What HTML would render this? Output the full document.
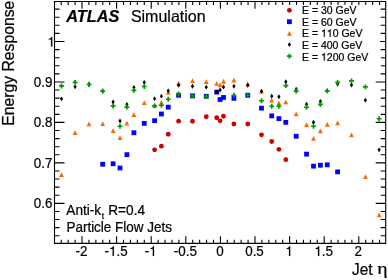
<!DOCTYPE html>
<html><head><meta charset="utf-8"><title>ATLAS Simulation</title>
<style>
html,body{margin:0;padding:0;background:#fff;}
svg{display:block;}
text{font-family:"Liberation Sans",sans-serif;fill:#000;stroke:#000;stroke-width:0.22px;}
</style></head>
<body>
<svg width="388" height="280" viewBox="0 0 388 280">
<defs><filter id="soft" x="0" y="0" width="388" height="280" filterUnits="userSpaceOnUse"><feGaussianBlur stdDeviation="0.35"/></filter></defs>
<rect x="0" y="0" width="388" height="280" fill="#ffffff"/>
<g filter="url(#soft)">
<path d="M61.24 243.40v-3.6M61.24 1.50v3.6M68.16 243.40v-3.6M68.16 1.50v3.6M75.08 243.40v-3.6M75.08 1.50v3.6M82.00 243.40v-7.2M82.00 1.50v7.2M88.92 243.40v-3.6M88.92 1.50v3.6M95.84 243.40v-3.6M95.84 1.50v3.6M102.76 243.40v-3.6M102.76 1.50v3.6M109.68 243.40v-3.6M109.68 1.50v3.6M116.60 243.40v-7.2M116.60 1.50v7.2M123.52 243.40v-3.6M123.52 1.50v3.6M130.44 243.40v-3.6M130.44 1.50v3.6M137.36 243.40v-3.6M137.36 1.50v3.6M144.28 243.40v-3.6M144.28 1.50v3.6M151.20 243.40v-7.2M151.20 1.50v7.2M158.12 243.40v-3.6M158.12 1.50v3.6M165.04 243.40v-3.6M165.04 1.50v3.6M171.96 243.40v-3.6M171.96 1.50v3.6M178.88 243.40v-3.6M178.88 1.50v3.6M185.80 243.40v-7.2M185.80 1.50v7.2M192.72 243.40v-3.6M192.72 1.50v3.6M199.64 243.40v-3.6M199.64 1.50v3.6M206.56 243.40v-3.6M206.56 1.50v3.6M213.48 243.40v-3.6M213.48 1.50v3.6M220.40 243.40v-7.2M220.40 1.50v7.2M227.32 243.40v-3.6M227.32 1.50v3.6M234.24 243.40v-3.6M234.24 1.50v3.6M241.16 243.40v-3.6M241.16 1.50v3.6M248.08 243.40v-3.6M248.08 1.50v3.6M255.00 243.40v-7.2M255.00 1.50v7.2M261.92 243.40v-3.6M261.92 1.50v3.6M268.84 243.40v-3.6M268.84 1.50v3.6M275.76 243.40v-3.6M275.76 1.50v3.6M282.68 243.40v-3.6M282.68 1.50v3.6M289.60 243.40v-7.2M289.60 1.50v7.2M296.52 243.40v-3.6M296.52 1.50v3.6M303.44 243.40v-3.6M303.44 1.50v3.6M310.36 243.40v-3.6M310.36 1.50v3.6M317.28 243.40v-3.6M317.28 1.50v3.6M324.20 243.40v-7.2M324.20 1.50v7.2M331.12 243.40v-3.6M331.12 1.50v3.6M338.04 243.40v-3.6M338.04 1.50v3.6M344.96 243.40v-3.6M344.96 1.50v3.6M351.88 243.40v-3.6M351.88 1.50v3.6M358.80 243.40v-7.2M358.80 1.50v7.2M365.72 243.40v-3.6M365.72 1.50v3.6M372.64 243.40v-3.6M372.64 1.50v3.6M379.56 243.40v-3.6M379.56 1.50v3.6M54.50 235.71h5M385.70 235.71h-5M54.50 227.62h5M385.70 227.62h-5M54.50 219.52h5M385.70 219.52h-5M54.50 211.43h5M385.70 211.43h-5M54.50 203.34h10M385.70 203.34h-10M54.50 195.25h5M385.70 195.25h-5M54.50 187.16h5M385.70 187.16h-5M54.50 179.06h5M385.70 179.06h-5M54.50 170.97h5M385.70 170.97h-5M54.50 162.88h10M385.70 162.88h-10M54.50 154.79h5M385.70 154.79h-5M54.50 146.70h5M385.70 146.70h-5M54.50 138.60h5M385.70 138.60h-5M54.50 130.51h5M385.70 130.51h-5M54.50 122.42h10M385.70 122.42h-10M54.50 114.33h5M385.70 114.33h-5M54.50 106.24h5M385.70 106.24h-5M54.50 98.14h5M385.70 98.14h-5M54.50 90.05h5M385.70 90.05h-5M54.50 81.96h10M385.70 81.96h-10M54.50 73.87h5M385.70 73.87h-5M54.50 65.78h5M385.70 65.78h-5M54.50 57.68h5M385.70 57.68h-5M54.50 49.59h5M385.70 49.59h-5M54.50 41.50h10M385.70 41.50h-10M54.50 33.41h5M385.70 33.41h-5M54.50 25.32h5M385.70 25.32h-5M54.50 17.22h5M385.70 17.22h-5M54.50 9.13h5M385.70 9.13h-5" stroke="#000" stroke-width="1.1" fill="none"/>
<path d="M54.5 243.4V1.5H385.7V243.4" stroke="#000" stroke-width="1.1" fill="none"/>
<path d="M54.05 243.4H386.15" stroke="#000026" stroke-width="1.15" fill="none"/>
<g>
<circle cx="154.60" cy="149.85" r="2.4" fill="#cc0000"/>
<circle cx="161.40" cy="146.15" r="2.4" fill="#cc0000"/>
<circle cx="168.25" cy="134.25" r="2.4" fill="#cc0000"/>
<circle cx="178.60" cy="121.15" r="2.4" fill="#cc0000"/>
<circle cx="192.50" cy="121.25" r="2.4" fill="#cc0000"/>
<circle cx="206.25" cy="116.75" r="2.4" fill="#cc0000"/>
<circle cx="216.70" cy="117.75" r="2.4" fill="#cc0000"/>
<circle cx="220.10" cy="120.85" r="2.4" fill="#cc0000"/>
<circle cx="223.50" cy="116.25" r="2.4" fill="#cc0000"/>
<circle cx="233.90" cy="124.00" r="2.4" fill="#cc0000"/>
<circle cx="247.75" cy="124.00" r="2.4" fill="#cc0000"/>
<circle cx="261.50" cy="134.85" r="2.4" fill="#cc0000"/>
<circle cx="271.75" cy="141.50" r="2.4" fill="#cc0000"/>
<circle cx="278.90" cy="149.35" r="2.4" fill="#cc0000"/>
<circle cx="285.80" cy="159.65" r="2.4" fill="#cc0000"/>
<rect x="100.30" y="161.85" width="4.8" height="4.8" fill="#0000ff"/>
<rect x="110.70" y="161.35" width="4.8" height="4.8" fill="#0000ff"/>
<rect x="117.60" y="165.60" width="4.8" height="4.8" fill="#0000ff"/>
<rect x="124.50" y="152.25" width="4.8" height="4.8" fill="#0000ff"/>
<rect x="131.50" y="130.35" width="4.8" height="4.8" fill="#0000ff"/>
<rect x="141.85" y="120.95" width="4.8" height="4.8" fill="#0000ff"/>
<rect x="152.20" y="118.25" width="4.8" height="4.8" fill="#0000ff"/>
<rect x="159.00" y="111.60" width="4.8" height="4.8" fill="#0000ff"/>
<rect x="165.85" y="104.75" width="4.8" height="4.8" fill="#0000ff"/>
<rect x="176.20" y="92.85" width="4.8" height="4.8" fill="#0000ff"/>
<rect x="190.10" y="93.45" width="4.8" height="4.8" fill="#0000ff"/>
<rect x="203.85" y="93.85" width="4.8" height="4.8" fill="#0000ff"/>
<rect x="214.30" y="89.75" width="4.8" height="4.8" fill="#0000ff"/>
<rect x="217.70" y="97.15" width="4.8" height="4.8" fill="#0000ff"/>
<rect x="221.10" y="95.05" width="4.8" height="4.8" fill="#0000ff"/>
<rect x="231.50" y="95.95" width="4.8" height="4.8" fill="#0000ff"/>
<rect x="245.35" y="92.85" width="4.8" height="4.8" fill="#0000ff"/>
<rect x="259.10" y="105.75" width="4.8" height="4.8" fill="#0000ff"/>
<rect x="269.35" y="113.45" width="4.8" height="4.8" fill="#0000ff"/>
<rect x="276.50" y="116.25" width="4.8" height="4.8" fill="#0000ff"/>
<rect x="283.40" y="119.95" width="4.8" height="4.8" fill="#0000ff"/>
<rect x="293.80" y="133.85" width="4.8" height="4.8" fill="#0000ff"/>
<rect x="304.15" y="151.75" width="4.8" height="4.8" fill="#0000ff"/>
<rect x="311.10" y="163.75" width="4.8" height="4.8" fill="#0000ff"/>
<rect x="318.00" y="162.85" width="4.8" height="4.8" fill="#0000ff"/>
<rect x="324.85" y="162.45" width="4.8" height="4.8" fill="#0000ff"/>
<rect x="335.20" y="169.45" width="4.8" height="4.8" fill="#0000ff"/>
<path d="M61.50 172.30L63.90 177.10L59.10 177.10Z" fill="#ff6600"/>
<path d="M75.10 130.30L77.50 135.10L72.70 135.10Z" fill="#ff6600"/>
<path d="M89.00 121.55L91.40 126.35L86.60 126.35Z" fill="#ff6600"/>
<path d="M102.70 121.30L105.10 126.10L100.30 126.10Z" fill="#ff6600"/>
<path d="M113.10 128.15L115.50 132.95L110.70 132.95Z" fill="#ff6600"/>
<path d="M120.00 135.30L122.40 140.10L117.60 140.10Z" fill="#ff6600"/>
<path d="M126.90 120.65L129.30 125.45L124.50 125.45Z" fill="#ff6600"/>
<path d="M133.90 112.30L136.30 117.10L131.50 117.10Z" fill="#ff6600"/>
<path d="M144.25 100.15L146.65 104.95L141.85 104.95Z" fill="#ff6600"/>
<path d="M154.60 102.85L157.00 107.65L152.20 107.65Z" fill="#ff6600"/>
<path d="M161.40 100.05L163.80 104.85L159.00 104.85Z" fill="#ff6600"/>
<path d="M168.25 90.05L170.65 94.85L165.85 94.85Z" fill="#ff6600"/>
<path d="M178.60 80.65L181.00 85.45L176.20 85.45Z" fill="#ff6600"/>
<path d="M192.50 78.15L194.90 82.95L190.10 82.95Z" fill="#ff6600"/>
<path d="M206.25 79.15L208.65 83.95L203.85 83.95Z" fill="#ff6600"/>
<path d="M216.70 81.05L219.10 85.85L214.30 85.85Z" fill="#ff6600"/>
<path d="M220.10 82.45L222.50 87.25L217.70 87.25Z" fill="#ff6600"/>
<path d="M223.50 78.85L225.90 83.65L221.10 83.65Z" fill="#ff6600"/>
<path d="M233.90 77.65L236.30 82.45L231.50 82.45Z" fill="#ff6600"/>
<path d="M247.75 81.55L250.15 86.35L245.35 86.35Z" fill="#ff6600"/>
<path d="M261.50 88.75L263.90 93.55L259.10 93.55Z" fill="#ff6600"/>
<path d="M271.75 97.75L274.15 102.55L269.35 102.55Z" fill="#ff6600"/>
<path d="M278.90 100.55L281.30 105.35L276.50 105.35Z" fill="#ff6600"/>
<path d="M285.80 99.45L288.20 104.25L283.40 104.25Z" fill="#ff6600"/>
<path d="M296.20 111.55L298.60 116.35L293.80 116.35Z" fill="#ff6600"/>
<path d="M306.55 122.15L308.95 126.95L304.15 126.95Z" fill="#ff6600"/>
<path d="M313.50 135.95L315.90 140.75L311.10 140.75Z" fill="#ff6600"/>
<path d="M320.40 128.55L322.80 133.35L318.00 133.35Z" fill="#ff6600"/>
<path d="M327.25 122.05L329.65 126.85L324.85 126.85Z" fill="#ff6600"/>
<path d="M337.60 120.45L340.00 125.25L335.20 125.25Z" fill="#ff6600"/>
<path d="M351.50 132.55L353.90 137.35L349.10 137.35Z" fill="#ff6600"/>
<path d="M365.40 174.15L367.80 178.95L363.00 178.95Z" fill="#ff6600"/>
<path d="M379.10 212.55L381.50 217.35L376.70 217.35Z" fill="#ff6600"/>
<path d="M61.50 96.40L63.10 98.85L61.50 101.30L59.90 98.85Z" fill="#000000"/>
<path d="M75.10 84.40L76.70 86.85L75.10 89.30L73.50 86.85Z" fill="#000000"/>
<path d="M89.00 82.30L90.60 84.75L89.00 87.20L87.40 84.75Z" fill="#000000"/>
<path d="M102.70 88.70L104.30 91.15L102.70 93.60L101.10 91.15Z" fill="#000000"/>
<path d="M113.10 99.55L114.70 102.00L113.10 104.45L111.50 102.00Z" fill="#000000"/>
<path d="M120.00 118.50L121.60 120.95L120.00 123.40L118.40 120.95Z" fill="#000000"/>
<path d="M126.90 102.10L128.50 104.55L126.90 107.00L125.30 104.55Z" fill="#000000"/>
<path d="M133.90 85.10L135.50 87.55L133.90 90.00L132.30 87.55Z" fill="#000000"/>
<path d="M144.25 79.90L145.85 82.35L144.25 84.80L142.65 82.35Z" fill="#000000"/>
<path d="M154.60 96.20L156.20 98.65L154.60 101.10L153.00 98.65Z" fill="#000000"/>
<path d="M161.40 93.70L163.00 96.15L161.40 98.60L159.80 96.15Z" fill="#000000"/>
<path d="M168.25 88.40L169.85 90.85L168.25 93.30L166.65 90.85Z" fill="#000000"/>
<path d="M178.60 82.80L180.20 85.25L178.60 87.70L177.00 85.25Z" fill="#000000"/>
<path d="M192.50 83.80L194.10 86.25L192.50 88.70L190.90 86.25Z" fill="#000000"/>
<path d="M206.25 84.70L207.85 87.15L206.25 89.60L204.65 87.15Z" fill="#000000"/>
<path d="M216.70 89.60L218.30 92.05L216.70 94.50L215.10 92.05Z" fill="#000000"/>
<path d="M220.10 87.50L221.70 89.95L220.10 92.40L218.50 89.95Z" fill="#000000"/>
<path d="M223.50 84.50L225.10 86.95L223.50 89.40L221.90 86.95Z" fill="#000000"/>
<path d="M233.90 83.80L235.50 86.25L233.90 88.70L232.30 86.25Z" fill="#000000"/>
<path d="M247.75 82.80L249.35 85.25L247.75 87.70L246.15 85.25Z" fill="#000000"/>
<path d="M261.50 88.80L263.10 91.25L261.50 93.70L259.90 91.25Z" fill="#000000"/>
<path d="M271.75 93.70L273.35 96.15L271.75 98.60L270.15 96.15Z" fill="#000000"/>
<path d="M278.90 94.30L280.50 96.75L278.90 99.20L277.30 96.75Z" fill="#000000"/>
<path d="M285.80 79.30L287.40 81.75L285.80 84.20L284.20 81.75Z" fill="#000000"/>
<path d="M296.20 86.80L297.80 89.25L296.20 91.70L294.60 89.25Z" fill="#000000"/>
<path d="M306.55 101.70L308.15 104.15L306.55 106.60L304.95 104.15Z" fill="#000000"/>
<path d="M313.50 119.80L315.10 122.25L313.50 124.70L311.90 122.25Z" fill="#000000"/>
<path d="M320.40 99.05L322.00 101.50L320.40 103.95L318.80 101.50Z" fill="#000000"/>
<path d="M327.25 88.40L328.85 90.85L327.25 93.30L325.65 90.85Z" fill="#000000"/>
<path d="M337.60 81.55L339.20 84.00L337.60 86.45L336.00 84.00Z" fill="#000000"/>
<path d="M351.50 82.55L353.10 85.00L351.50 87.45L349.90 85.00Z" fill="#000000"/>
<path d="M365.40 97.80L367.00 100.25L365.40 102.70L363.80 100.25Z" fill="#000000"/>
<path d="M379.10 147.40L380.70 149.85L379.10 152.30L377.50 149.85Z" fill="#000000"/>
<path d="M60.65 83.50H62.35V85.10H63.95V86.80H62.35V88.40H60.65V86.80H59.05V85.10H60.65Z" fill="#009900"/>
<path d="M74.25 79.90H75.95V81.50H77.55V83.20H75.95V84.80H74.25V83.20H72.65V81.50H74.25Z" fill="#009900"/>
<path d="M88.15 81.80H89.85V83.40H91.45V85.10H89.85V86.70H88.15V85.10H86.55V83.40H88.15Z" fill="#009900"/>
<path d="M101.85 88.60H103.55V90.20H105.15V91.90H103.55V93.50H101.85V91.90H100.25V90.20H101.85Z" fill="#009900"/>
<path d="M112.25 103.50H113.95V105.10H115.55V106.80H113.95V108.40H112.25V106.80H110.65V105.10H112.25Z" fill="#009900"/>
<path d="M119.15 123.80H120.85V125.40H122.45V127.10H120.85V128.70H119.15V127.10H117.55V125.40H119.15Z" fill="#009900"/>
<path d="M126.05 104.60H127.75V106.20H129.35V107.90H127.75V109.50H126.05V107.90H124.45V106.20H126.05Z" fill="#009900"/>
<path d="M133.05 87.90H134.75V89.50H136.35V91.20H134.75V92.80H133.05V91.20H131.45V89.50H133.05Z" fill="#009900"/>
<path d="M143.40 84.05H145.10V85.65H146.70V87.35H145.10V88.95H143.40V87.35H141.80V85.65H143.40Z" fill="#009900"/>
<path d="M153.75 103.40H155.45V105.00H157.05V106.70H155.45V108.30H153.75V106.70H152.15V105.00H153.75Z" fill="#009900"/>
<path d="M160.55 102.80H162.25V104.40H163.85V106.10H162.25V107.70H160.55V106.10H158.95V104.40H160.55Z" fill="#009900"/>
<path d="M167.40 96.80H169.10V98.40H170.70V100.10H169.10V101.70H167.40V100.10H165.80V98.40H167.40Z" fill="#009900"/>
<path d="M177.75 91.55H179.45V93.15H181.05V94.85H179.45V96.45H177.75V94.85H176.15V93.15H177.75Z" fill="#009900"/>
<path d="M191.65 93.40H193.35V95.00H194.95V96.70H193.35V98.30H191.65V96.70H190.05V95.00H191.65Z" fill="#009900"/>
<path d="M205.40 93.90H207.10V95.50H208.70V97.20H207.10V98.80H205.40V97.20H203.80V95.50H205.40Z" fill="#009900"/>
<path d="M233.05 92.80H234.75V94.40H236.35V96.10H234.75V97.70H233.05V96.10H231.45V94.40H233.05Z" fill="#009900"/>
<path d="M246.90 92.80H248.60V94.40H250.20V96.10H248.60V97.70H246.90V96.10H245.30V94.40H246.90Z" fill="#009900"/>
<path d="M260.65 98.30H262.35V99.90H263.95V101.60H262.35V103.20H260.65V101.60H259.05V99.90H260.65Z" fill="#009900"/>
<path d="M270.90 103.80H272.60V105.40H274.20V107.10H272.60V108.70H270.90V107.10H269.30V105.40H270.90Z" fill="#009900"/>
<path d="M278.05 103.80H279.75V105.40H281.35V107.10H279.75V108.70H278.05V107.10H276.45V105.40H278.05Z" fill="#009900"/>
<path d="M284.95 83.20H286.65V84.80H288.25V86.50H286.65V88.10H284.95V86.50H283.35V84.80H284.95Z" fill="#009900"/>
<path d="M295.35 88.60H297.05V90.20H298.65V91.90H297.05V93.50H295.35V91.90H293.75V90.20H295.35Z" fill="#009900"/>
<path d="M305.70 104.80H307.40V106.40H309.00V108.10H307.40V109.70H305.70V108.10H304.10V106.40H305.70Z" fill="#009900"/>
<path d="M312.65 123.80H314.35V125.40H315.95V127.10H314.35V128.70H312.65V127.10H311.05V125.40H312.65Z" fill="#009900"/>
<path d="M319.55 102.00H321.25V103.60H322.85V105.30H321.25V106.90H319.55V105.30H317.95V103.60H319.55Z" fill="#009900"/>
<path d="M326.40 88.40H328.10V90.00H329.70V91.70H328.10V93.30H326.40V91.70H324.80V90.00H326.40Z" fill="#009900"/>
<path d="M336.75 79.90H338.45V81.50H340.05V83.20H338.45V84.80H336.75V83.20H335.15V81.50H336.75Z" fill="#009900"/>
<path d="M350.65 78.40H352.35V80.00H353.95V81.70H352.35V83.30H350.65V81.70H349.05V80.00H350.65Z" fill="#009900"/>
<path d="M364.55 84.40H366.25V86.00H367.85V87.70H366.25V89.30H364.55V87.70H362.95V86.00H364.55Z" fill="#009900"/>
<path d="M378.25 116.30H379.95V117.90H381.55V119.60H379.95V121.20H378.25V119.60H376.65V117.90H378.25Z" fill="#009900"/>
</g>
<rect x="266" y="4.9" width="114" height="59" fill="#ffffff"/>
<circle cx="289.40" cy="10.30" r="2.4" fill="#cc0000"/><rect x="287.00" y="19.30" width="4.8" height="4.8" fill="#0000ff"/><path d="M289.40 30.90L291.80 35.70L287.00 35.70Z" fill="#ff6600"/><path d="M289.40 42.15L291.00 44.60L289.40 47.05L287.80 44.60Z" fill="#000000"/><path d="M288.55 53.75H290.25V55.35H291.85V57.05H290.25V58.65H288.55V57.05H286.95V55.35H288.55Z" fill="#009900"/>
<text transform="translate(302.00,14.35) scale(1,1.04)" font-size="10.5">E = 30 GeV</text>
<text transform="translate(302.00,25.65) scale(1,1.04)" font-size="10.5">E = 60 GeV</text>
<text transform="translate(302.00,36.85) scale(1,1.04)" font-size="10.5">E = </text>
<path d="M324.74 36.85L323.82 36.85L323.82 31.47L322.03 31.47L322.03 30.80C322.96 30.76 323.91 30.36 324.14 29.37L324.74 29.37Z" fill="#000" stroke="#000" stroke-width="0.22"/>
<path d="M330.58 36.85L329.65 36.85L329.65 31.47L327.87 31.47L327.87 30.80C328.80 30.76 329.75 30.36 329.98 29.37L330.58 29.37Z" fill="#000" stroke="#000" stroke-width="0.22"/>
<text transform="translate(332.65,36.85) scale(1,1.04)" font-size="10.5" xml:space="preserve">0 GeV</text>
<text transform="translate(302.00,48.60) scale(1,1.04)" font-size="10.5">E = 400 GeV</text>
<text transform="translate(302.00,60.60) scale(1,1.04)" font-size="10.5">E = </text>
<path d="M324.74 60.60L323.82 60.60L323.82 55.22L322.03 55.22L322.03 54.55C322.96 54.51 323.91 54.11 324.14 53.12L324.74 53.12Z" fill="#000" stroke="#000" stroke-width="0.22"/>
<text transform="translate(326.81,60.60) scale(1,1.04)" font-size="10.5" xml:space="preserve">200 GeV</text>
<path d="M52.26 46.45L51.08 46.45L51.08 39.59L48.80 39.59L48.80 38.73C49.99 38.68 51.20 38.16 51.49 36.90L52.26 36.90Z" fill="#000" stroke="#000" stroke-width="0.22"/>
<text transform="translate(52.40,86.91) scale(1,1.04)" font-size="13.4" text-anchor="end">0.9</text>
<text transform="translate(52.40,127.37) scale(1,1.04)" font-size="13.4" text-anchor="end">0.8</text>
<text transform="translate(52.40,167.83) scale(1,1.04)" font-size="13.4" text-anchor="end">0.7</text>
<text transform="translate(52.40,208.29) scale(1,1.04)" font-size="13.4" text-anchor="end">0.6</text>
<text transform="translate(81.50,255.90) scale(1,1.04)" font-size="13.4" text-anchor="middle">-2</text>
<text transform="translate(104.55,255.90) scale(1,1.04)" font-size="13.4">-</text>
<path d="M113.83 255.90L112.65 255.90L112.65 249.04L110.37 249.04L110.37 248.18C111.56 248.13 112.77 247.61 113.06 246.35L113.83 246.35Z" fill="#000" stroke="#000" stroke-width="0.22"/>
<text transform="translate(116.47,255.90) scale(1,1.04)" font-size="13.4" xml:space="preserve">.5</text>
<text transform="translate(144.74,255.90) scale(1,1.04)" font-size="13.4">-</text>
<path d="M154.02 255.90L152.84 255.90L152.84 249.04L150.56 249.04L150.56 248.18C151.75 248.13 152.96 247.61 153.25 246.35L154.02 246.35Z" fill="#000" stroke="#000" stroke-width="0.22"/>
<text transform="translate(185.30,255.90) scale(1,1.04)" font-size="13.4" text-anchor="middle">-0.5</text>
<text transform="translate(219.90,255.90) scale(1,1.04)" font-size="13.4" text-anchor="middle">0</text>
<text transform="translate(254.50,255.90) scale(1,1.04)" font-size="13.4" text-anchor="middle">0.5</text>
<path d="M290.18 255.90L289.01 255.90L289.01 249.04L286.73 249.04L286.73 248.18C287.92 248.13 289.13 247.61 289.42 246.35L290.18 246.35Z" fill="#000" stroke="#000" stroke-width="0.22"/>
<path d="M319.20 255.90L318.02 255.90L318.02 249.04L315.74 249.04L315.74 248.18C316.93 248.13 318.14 247.61 318.43 246.35L319.20 246.35Z" fill="#000" stroke="#000" stroke-width="0.22"/>
<text transform="translate(321.84,255.90) scale(1,1.04)" font-size="13.4" xml:space="preserve">.5</text>
<text transform="translate(358.30,255.90) scale(1,1.04)" font-size="13.4" text-anchor="middle">2</text>
<text transform="translate(66.30,21.80) scale(1,1.04)" font-size="16.3" font-weight="bold" font-style="italic">ATLAS</text>
<text transform="translate(130.90,21.90) scale(1,1.03)" font-size="16.0">Simulation</text>
<text transform="translate(66.30,214.60) scale(1,1.03)" font-size="13.65">Anti-k<tspan font-size="8.6" dx="0.6" dy="3.9">t</tspan><tspan dy="-3.9" dx="0.3"> R=0.4</tspan></text>
<text transform="translate(66.40,232.20) scale(1,1.03)" font-size="13.5">Particle Flow Jets</text>
<text transform="translate(14.3,125.7) rotate(-90) scale(1,1.03)" font-size="15.75">Energy Response</text>
<text transform="translate(352.00,274.50) scale(1,1.03)" font-size="15.5">Jet</text>
<text transform="translate(377.2,274.4) scale(1.14,1)" font-size="17.3" style="font-family:'Liberation Serif',serif">η</text>
</g>
</svg>
</body></html>
